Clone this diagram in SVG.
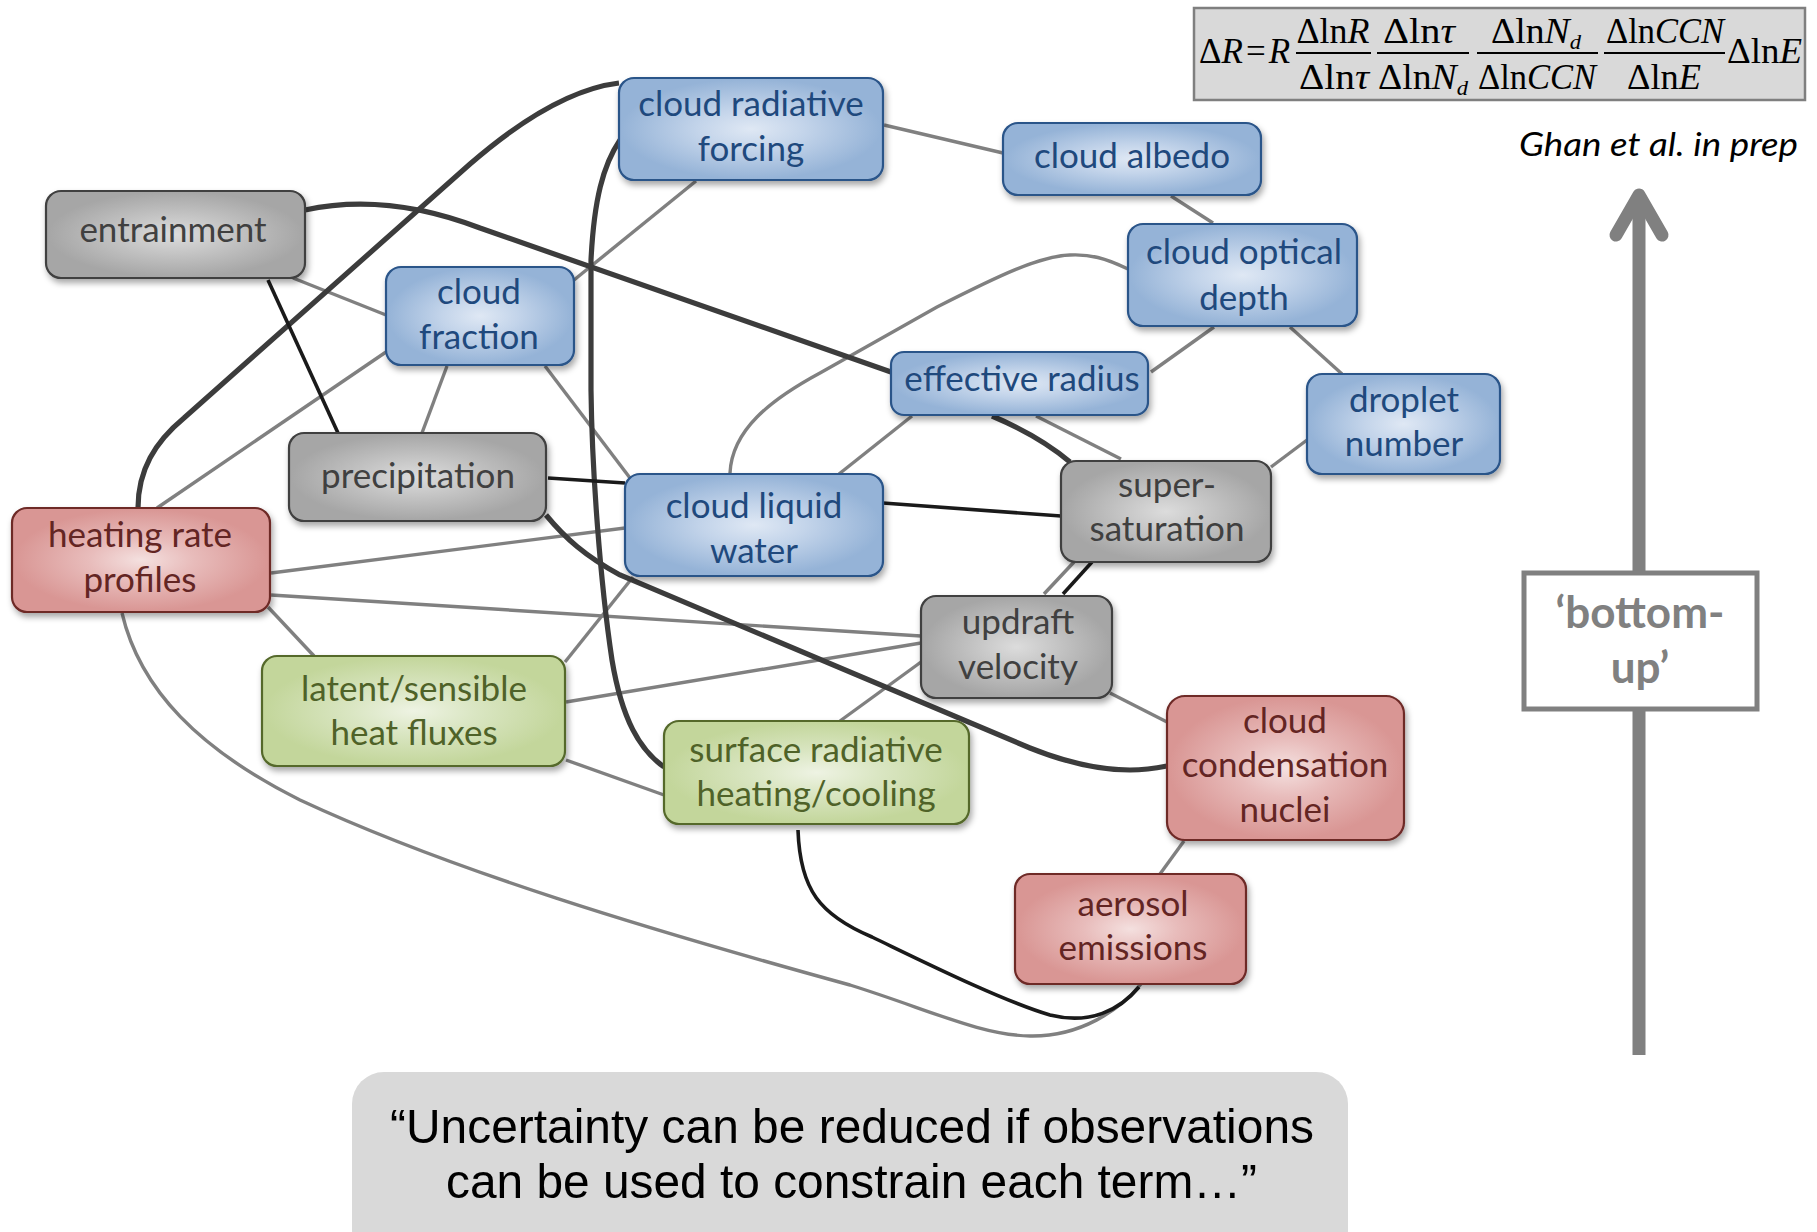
<svg xmlns="http://www.w3.org/2000/svg" width="1817" height="1232" viewBox="0 0 1817 1232">
<defs>
<radialGradient id="gBlue" cx="50%" cy="50%" r="58%"><stop offset="0" stop-color="#dfe8f4"/><stop offset="0.35" stop-color="#c3d4ea"/><stop offset="0.85" stop-color="#95b3d7"/></radialGradient>
<radialGradient id="gGray" cx="50%" cy="50%" r="58%"><stop offset="0" stop-color="#dcdcdc"/><stop offset="0.35" stop-color="#c6c6c6"/><stop offset="0.85" stop-color="#a6a6a6"/></radialGradient>
<radialGradient id="gRed" cx="50%" cy="50%" r="58%"><stop offset="0" stop-color="#f4e0df"/><stop offset="0.35" stop-color="#e8bcbb"/><stop offset="0.85" stop-color="#d99694"/></radialGradient>
<radialGradient id="gGreen" cx="50%" cy="50%" r="58%"><stop offset="0" stop-color="#eef3e3"/><stop offset="0.35" stop-color="#dae6c3"/><stop offset="0.85" stop-color="#c3d69b"/></radialGradient>
<filter id="sh" x="-10%" y="-10%" width="125%" height="135%"><feDropShadow dx="2" dy="4" stdDeviation="3" flood-color="#000" flood-opacity="0.35"/></filter>
</defs>
<style>
.node rect{stroke-width:2.2;filter:url(#sh)}
.blue rect{fill:url(#gBlue);stroke:#2a5489}
.blue text{fill:#1f497d}
.gray rect{fill:url(#gGray);stroke:#404040}
.gray text{fill:#404040}
.red rect{fill:url(#gRed);stroke:#6e2a28}
.red text{fill:#632523}
.green rect{fill:url(#gGreen);stroke:#55692c}
.green text{fill:#4f6228}
.lbl{font-family:Lato,"Open Sans","Liberation Sans",sans-serif;font-size:35px;text-anchor:middle}
.thin{stroke:#808080;stroke-width:3.4;fill:none}
.thick{stroke:#3c3c3c;stroke-width:5.2;fill:none}
.blk{stroke:#1a1a1a;stroke-width:3.6;fill:none}
.math{font-family:"Liberation Serif","Times New Roman",serif;font-size:35px;fill:#000}
.it{font-style:italic}
.bar{stroke:#000;stroke-width:2}
</style>

<g id="connectors">
<line class="thin" x1="884" y1="125" x2="1003" y2="153"/>
<line class="thin" x1="1171" y1="196" x2="1213" y2="223"/>
<line class="thin" x1="574" y1="280" x2="696" y2="181"/>
<line class="thin" x1="293" y1="278" x2="386" y2="315"/>
<line class="thin" x1="157" y1="508" x2="386" y2="352"/>
<line class="thin" x1="447" y1="366" x2="422" y2="433"/>
<line class="thin" x1="545" y1="366" x2="630" y2="478"/>
<line class="thin" x1="1151" y1="372" x2="1214" y2="327"/>
<line class="thin" x1="1290" y1="327" x2="1342" y2="374"/>
<line class="thin" x1="1036" y1="416" x2="1121" y2="459"/>
<line class="thin" x1="912" y1="416" x2="839" y2="474"/>
<line class="thin" x1="1307" y1="440" x2="1271" y2="467"/>
<path class="thin" d="M1128,269 C1105,258 1090,254 1070,255 C1040,256 1000,275 937,307 L820,373 C770,400 732,430 730,473"/>
<line class="thin" x1="271" y1="573" x2="625" y2="528"/>
<line class="thin" x1="271" y1="595" x2="921" y2="636"/>
<line class="thin" x1="268" y1="607" x2="314" y2="656"/>
<line class="thin" x1="566" y1="702" x2="921" y2="643"/>
<line class="thin" x1="565" y1="662" x2="633" y2="577"/>
<line class="thin" x1="566" y1="760" x2="664" y2="795"/>
<line class="thin" x1="921" y1="662" x2="840" y2="721"/>
<line class="thin" x1="1074" y1="562" x2="1044" y2="594"/>
<line class="thin" x1="1110" y1="693" x2="1167" y2="722"/>
<line class="thin" x1="1184" y1="841" x2="1160" y2="874"/>
<path class="thin" d="M122,613 C140,690 200,750 300,800 C450,870 650,930 850,985 C930,1010 980,1035 1030,1036 C1080,1037 1120,1010 1141,984"/>
<path class="thick" d="M138,508 C138,470 155,442 184,418 L470,164 C530,112 578,88 619,83"/>
<path class="thick" d="M620,140 C603,165 594,200 591,260 L591,390 C592,470 600,580 612,660 C622,720 640,750 664,767"/>
<path class="thick" d="M305,210 C360,198 420,205 480,228 L891,372"/>
<path class="thick" d="M546,515 C565,538 585,556 620,575 L1030,748 C1070,764 1100,770 1130,770 C1145,770 1157,768 1167,766"/>
<path class="thick" d="M992,416 C1025,430 1050,445 1070,462"/>
<path class="blk" d="M798,830 C800,890 820,915 872,937 C920,960 1000,1000 1050,1015 C1090,1025 1120,1010 1139,987"/>
<line class="blk" x1="268" y1="280" x2="338" y2="433"/>
<line class="blk" x1="548" y1="478" x2="625" y2="483"/>
<line class="blk" x1="883" y1="503" x2="1061" y2="516"/>
<line class="blk" x1="1092" y1="562" x2="1063" y2="594"/>
</g>

<g id="n-crf" class="node blue"><rect x="619" y="78" width="264" height="102" rx="15"/><text class="lbl"><tspan x="751" y="116">cloud radiative</tspan><tspan x="751" y="161">forcing</tspan></text></g>
<g id="n-albedo" class="node blue"><rect x="1003" y="123" width="258" height="72" rx="15"/><text class="lbl" x="1132" y="168">cloud albedo</text></g>
<g id="n-entrain" class="node gray"><rect x="46" y="191" width="259" height="87" rx="15"/><text class="lbl" x="173" y="242">entrainment</text></g>
<g id="n-cod" class="node blue"><rect x="1128" y="224" width="229" height="102" rx="15"/><text class="lbl"><tspan x="1244" y="264">cloud optical</tspan><tspan x="1244" y="310">depth</tspan></text></g>
<g id="n-cf" class="node blue"><rect x="386" y="267" width="188" height="98" rx="15"/><text class="lbl"><tspan x="479" y="304">cloud</tspan><tspan x="479" y="349">fraction</tspan></text></g>
<g id="n-er" class="node blue"><rect x="891" y="352" width="257" height="63" rx="13"/><text class="lbl" x="1022" y="391">effective radius</text></g>
<g id="n-dn" class="node blue"><rect x="1307" y="374" width="193" height="100" rx="15"/><text class="lbl"><tspan x="1404" y="412">droplet</tspan><tspan x="1404" y="456">number</tspan></text></g>
<g id="n-precip" class="node gray"><rect x="289" y="433" width="257" height="88" rx="15"/><text class="lbl" x="418" y="488">precipitation</text></g>
<g id="n-clw" class="node blue"><rect x="625" y="474" width="258" height="102" rx="15"/><text class="lbl"><tspan x="754" y="518">cloud liquid</tspan><tspan x="754" y="563">water</tspan></text></g>
<g id="n-ss" class="node gray"><rect x="1061" y="461" width="210" height="101" rx="15"/><text class="lbl"><tspan x="1167" y="497">super-</tspan><tspan x="1167" y="541">saturation</tspan></text></g>
<g id="n-hrp" class="node red"><rect x="12" y="508" width="258" height="104" rx="15"/><text class="lbl"><tspan x="140" y="547">heating rate</tspan><tspan x="140" y="592">profiles</tspan></text></g>
<g id="n-uv" class="node gray"><rect x="921" y="596" width="191" height="102" rx="15"/><text class="lbl"><tspan x="1018" y="634">updraft</tspan><tspan x="1018" y="679">velocity</tspan></text></g>
<g id="n-lsh" class="node green"><rect x="262" y="656" width="303" height="110" rx="15"/><text class="lbl"><tspan x="414" y="701">latent/sensible</tspan><tspan x="414" y="745">heat fluxes</tspan></text></g>
<g id="n-srh" class="node green"><rect x="664" y="721" width="305" height="103" rx="15"/><text class="lbl"><tspan x="816" y="762">surface radiative</tspan><tspan x="816" y="806">heating/cooling</tspan></text></g>
<g id="n-ccn" class="node red"><rect x="1167" y="696" width="237" height="144" rx="18"/><text class="lbl"><tspan x="1285" y="733">cloud</tspan><tspan x="1285" y="777">condensation</tspan><tspan x="1285" y="822">nuclei</tspan></text></g>
<g id="n-ae" class="node red"><rect x="1015" y="874" width="231" height="110" rx="15"/><text class="lbl"><tspan x="1133" y="916">aerosol</tspan><tspan x="1133" y="960">emissions</tspan></text></g>

<g id="formula">
<rect x="1194" y="8" width="611" height="92" fill="#d9d9d9" stroke="#7f7f7f" stroke-width="2.5"/>
<text class="math" x="1199" y="63">Δ<tspan class="it">R</tspan><tspan dx="3">=</tspan><tspan class="it" dx="3">R</tspan></text>
<line class="bar" x1="1296" y1="53" x2="1371" y2="53"/>
<text class="math" x="1333" y="43" text-anchor="middle" textLength="73" lengthAdjust="spacingAndGlyphs">Δln<tspan class="it">R</tspan></text>
<text class="math" x="1334" y="89" text-anchor="middle" textLength="70" lengthAdjust="spacingAndGlyphs">Δln<tspan class="it">τ</tspan></text>
<line class="bar" x1="1377" y1="53" x2="1469" y2="53"/>
<text class="math" x="1419" y="43" text-anchor="middle" textLength="72" lengthAdjust="spacingAndGlyphs">Δln<tspan class="it">τ</tspan></text>
<text class="math" x="1423" y="89" text-anchor="middle" textLength="90" lengthAdjust="spacingAndGlyphs">Δln<tspan class="it">N</tspan><tspan class="it" font-size="21" dy="6">d</tspan></text>
<line class="bar" x1="1477" y1="53" x2="1598" y2="53"/>
<text class="math" x="1536" y="43" text-anchor="middle" textLength="90" lengthAdjust="spacingAndGlyphs">Δln<tspan class="it">N</tspan><tspan class="it" font-size="21" dy="6">d</tspan></text>
<text class="math" x="1537" y="89" text-anchor="middle" textLength="118" lengthAdjust="spacingAndGlyphs">Δln<tspan class="it">CCN</tspan></text>
<line class="bar" x1="1604" y1="53" x2="1725" y2="53"/>
<text class="math" x="1665" y="43" text-anchor="middle" textLength="118" lengthAdjust="spacingAndGlyphs">Δln<tspan class="it">CCN</tspan></text>
<text class="math" x="1664" y="89" text-anchor="middle" textLength="74" lengthAdjust="spacingAndGlyphs">Δln<tspan class="it">E</tspan></text>
<text class="math" x="1727" y="63" textLength="75" lengthAdjust="spacingAndGlyphs">Δln<tspan class="it">E</tspan></text>
</g>

<text id="cite" x="1519" y="156" font-family="Lato,'Open Sans',sans-serif" font-style="italic" font-size="33" fill="#000" textLength="279" lengthAdjust="spacingAndGlyphs">Ghan et al. in prep</text>

<g id="bottomup">
<line x1="1639" y1="1055" x2="1639" y2="196" stroke="#808080" stroke-width="13"/>
<polyline points="1616,235 1639,195 1662,235" fill="none" stroke="#808080" stroke-width="13" stroke-linecap="round" stroke-linejoin="round"/>
<rect x="1524" y="573" width="233" height="136" fill="#fff" stroke="#808080" stroke-width="5"/>
<text font-family="Lato,'Open Sans',sans-serif" font-weight="bold" font-size="44" fill="#808080" text-anchor="middle"><tspan x="1640" y="628">‘bottom-</tspan><tspan x="1640" y="683">up’</tspan></text>
</g>

<g id="quote">
<rect x="352" y="1072" width="996" height="190" rx="32" fill="#d9d9d9"/>
<text font-family="'Liberation Sans',Arial,sans-serif" font-size="49" fill="#000"><tspan x="390" y="1143" textLength="924" lengthAdjust="spacingAndGlyphs">“Uncertainty can be reduced if observations</tspan><tspan x="446" y="1198" textLength="811" lengthAdjust="spacingAndGlyphs">can be used to constrain each term…”</tspan></text>
</g>
</svg>
